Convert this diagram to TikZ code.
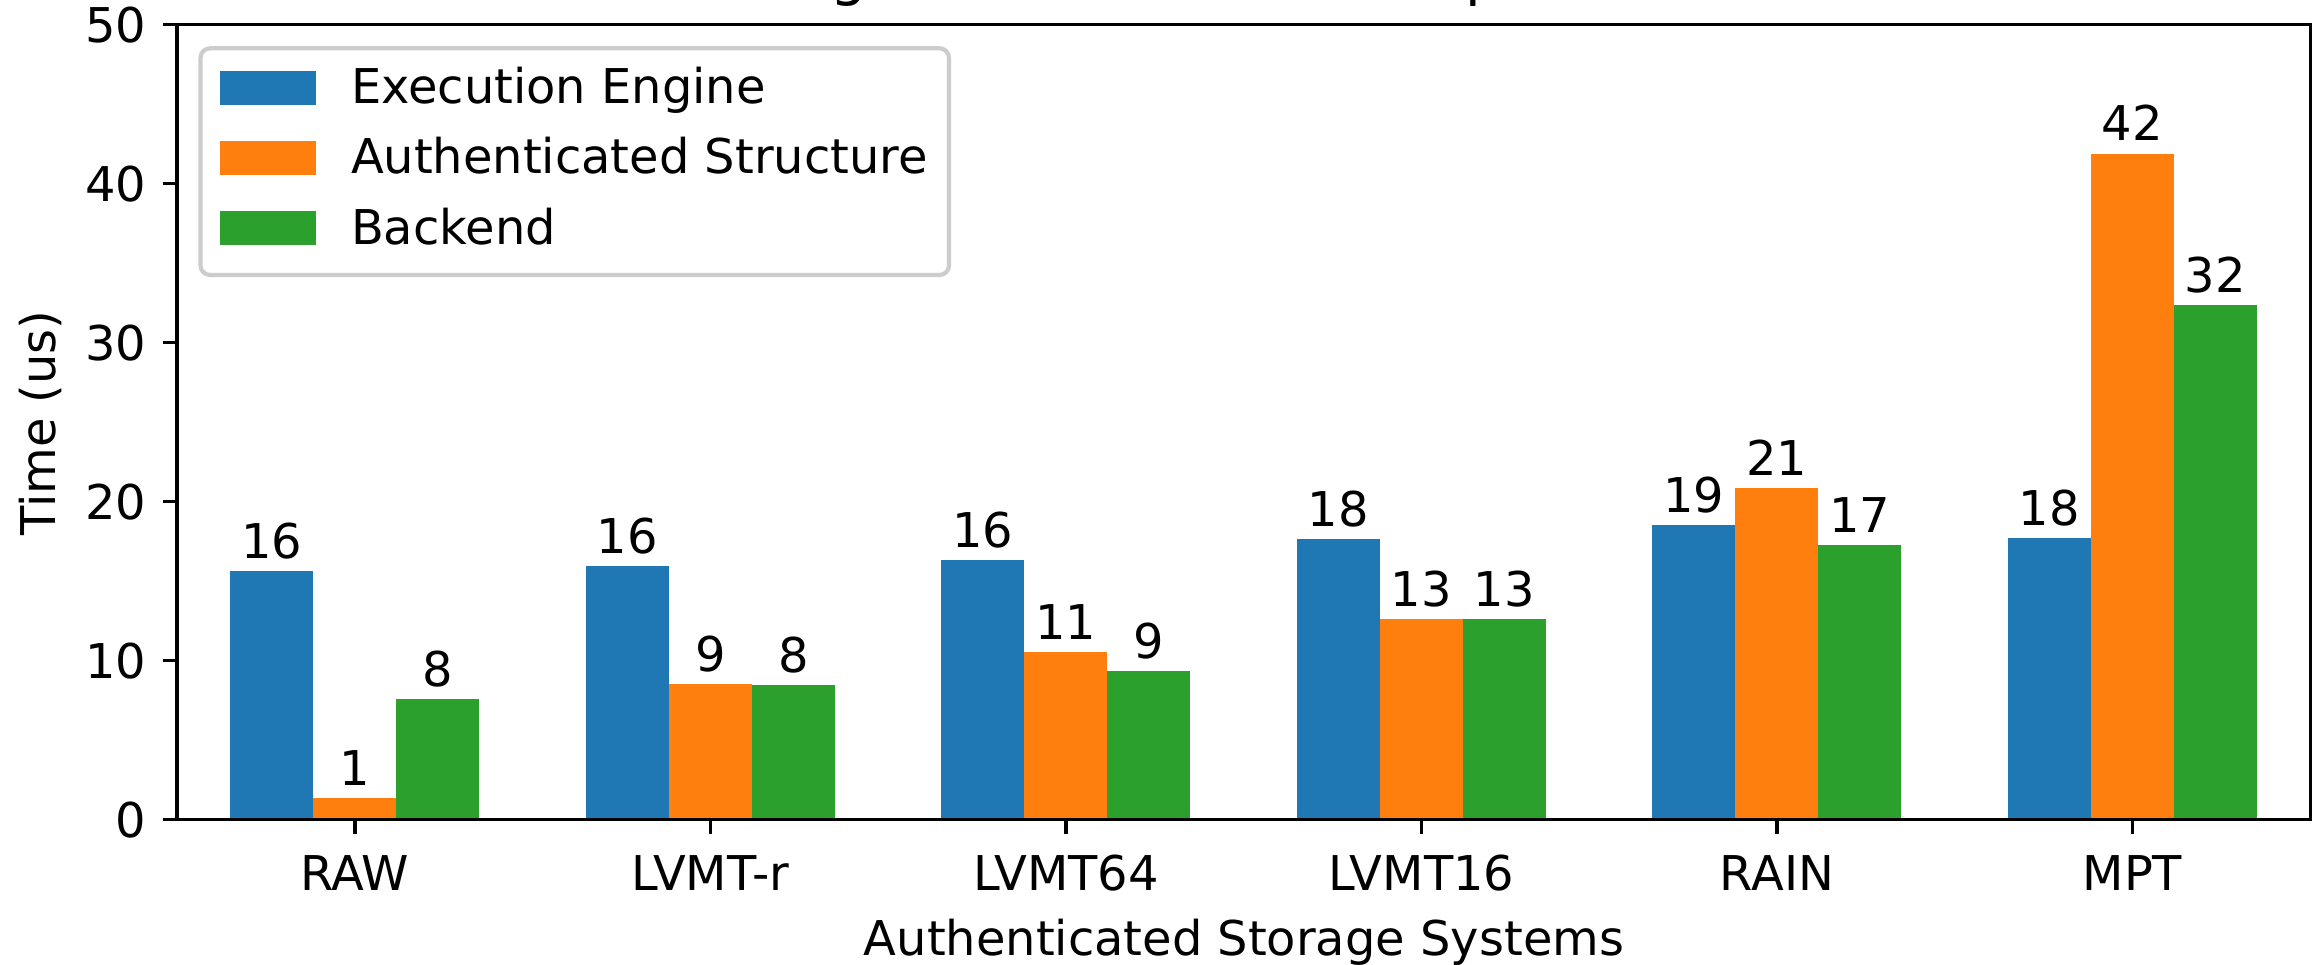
\documentclass[tikz,border=0pt]{standalone}
\usepackage{fontspec}
\setmainfont{DejaVu Sans}
\definecolor{cEE}{HTML}{1F77B4}
\definecolor{cAS}{HTML}{FF7F0E}
\definecolor{cBE}{HTML}{2CA02C}
\definecolor{legendedge}{HTML}{CCCCCC}

\begin{document}
\begin{tikzpicture}[x=0.24pt,y=-0.24pt,
  lbl/.style={font=\fontsize{11.5pt}{13.8pt}\selectfont, inner sep=0pt, outer sep=0pt, text=black},
  barlbl/.style={lbl, anchor=base},
  spine/.style={line width=0.8pt, draw=black, line cap=rect},
  tickmark/.style={line width=0.8pt, draw=black},
  legframe/.style={line width=1pt, draw=legendedge, fill=white, fill opacity=0.8, rounded corners=2.3pt},
]
\useasboundingbox (0,0) rectangle (2323,965);

% title line, mostly above the page edge
\begin{scope}
  \clip (0,0) rectangle (2323,965);
  \node[lbl, font=\fontsize{13.8pt}{16.5pt}\selectfont, anchor=base west] (titleg) at (830,-5.5) {g};
  \node[lbl, font=\fontsize{13.8pt}{16.5pt}\selectfont, anchor=base west] (titlep) at (1465.4,-5.5) {p};
\end{scope}

% bars: group centre = 354.9 + 355.5*i, bar width 82.95 px, 15.904 px per us
\foreach \a/\b/\c [count=\i from 0] in
  {15.63/1.37/7.60, 15.93/8.52/8.46, 16.33/10.54/9.33,
   17.63/12.60/12.62, 18.52/20.86/17.29, 17.69/41.88/32.37}{
  \pgfmathsetmacro\cx{354.9+355.5*\i}
  \fill[cEE] (\cx-124.425,819.7) rectangle (\cx-41.475,819.7-\a*15.904);
  \fill[cAS] (\cx-41.475,819.7) rectangle (\cx+41.475,819.7-\b*15.904);
  \fill[cBE] (\cx+41.475,819.7) rectangle (\cx+124.425,819.7-\c*15.904);
  \pgfmathtruncatemacro\la{round(\a)}
  \pgfmathtruncatemacro\lb{round(\b)}
  \pgfmathtruncatemacro\lc{round(\c)}
  \node[barlbl] (vEE\i) at (\cx-82.95,819.7-\a*15.904-12.7) {\la};
  \node[barlbl] (vAS\i) at (\cx,819.7-\b*15.904-12.7) {\lb};
  \node[barlbl] (vBE\i) at (\cx+82.95,819.7-\c*15.904-12.7) {\lc};
}

% x ticks and category names
\foreach \name [count=\i from 0] in {RAW,LVMT-r,LVMT64,LVMT16,RAIN,MPT}{
  \pgfmathsetmacro\cx{354.9+355.5*\i}
  \draw[tickmark] (\cx,819.7) -- (\cx,834.3);
  \node[lbl, anchor=base] (xt\i) at (\cx,890) {\name};
}

% y ticks and values
\foreach \v in {0,10,20,30,40,50}{
  \pgfmathsetmacro\yy{819.7-\v*15.904}
  \draw[tickmark] (177.15,\yy) -- (162.55,\yy);
  \node[lbl, anchor=base east] (yt\v) at (146,\yy+18) {\v};
}

% axes frame
\draw[spine] (177.15,24.5) rectangle (2310.2,819.7);

% axis titles
\node[lbl, anchor=base] (xlabel) at (1244,955) {Authenticated Storage Systems};
\node[lbl, anchor=base, rotate=90] (ylabel) at (55,423) {Time (us)};

% legend
\draw[legframe] (200.5,48.3) rectangle (949,275);
\fill[cEE] (219.6,71) rectangle (316,104.5);
\fill[cAS] (219.6,141.2) rectangle (316,174.7);
\fill[cBE] (219.6,211.4) rectangle (316,244.9);
\node[lbl, anchor=base west] (legEE) at (351,103.5) {Execution Engine};
\node[lbl, anchor=base west] (legAS) at (351,173.7) {Authenticated Structure};
\node[lbl, anchor=base west] (legBE) at (351,244) {Backend};
\end{tikzpicture}
\end{document}
